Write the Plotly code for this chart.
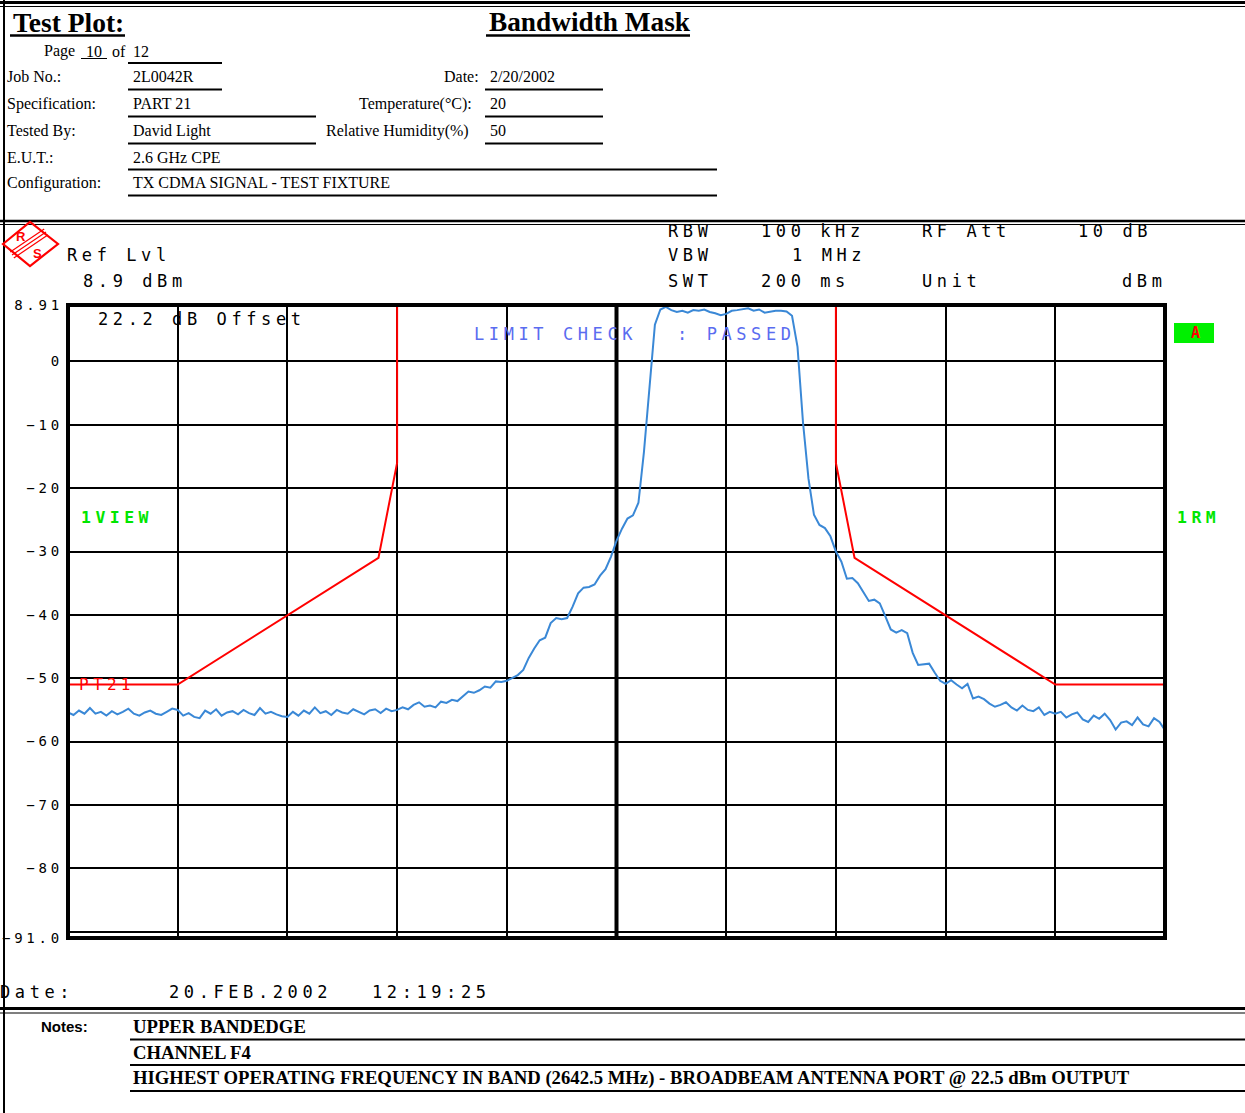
import numpy as np
import plotly.graph_objects as go

W, H = 1245, 1113

# ---------------- data ----------------
trace_db = [
    -55.4, -55.8, -55.1, -55.6, -54.7, -55.6, -55.3, -55.9, -55.2, -55.7,
    -55.3, -54.8, -55.6, -55.9, -55.4, -55.1, -55.6, -55.8, -55.3, -54.8,
    -55.0, -55.9, -55.5, -56.1, -56.3, -55.1, -55.6, -54.9, -55.9, -55.4,
    -55.2, -55.7, -55.0, -55.5, -55.8, -54.7, -55.6, -55.3, -55.7, -56.0,
    -56.1, -55.3, -55.9, -55.1, -55.6, -54.6, -55.5, -55.2, -55.8, -55.0,
    -55.4, -55.6, -54.9, -55.3, -55.7, -55.1, -54.9, -55.5, -54.8, -55.2,
    -55.0, -54.6, -54.9, -54.2, -53.8, -54.5, -54.3, -54.6, -53.7, -53.9,
    -53.4, -53.6, -52.8, -52.1, -52.3, -51.9, -51.3, -51.5, -50.5, -50.6,
    -50.4, -49.9, -49.5, -48.7, -46.8, -45.3, -44.0, -43.6, -41.3, -40.5,
    -40.7, -40.5, -38.7, -36.6, -35.7, -35.6, -35.2, -33.8, -32.8, -30.8,
    -28.3, -26.4, -24.8, -24.3, -22.3, -14.3, -3.9, 5.8, 8.2, 8.6,
    8.1, 7.8, 8.0, 7.7, 8.1, 8.0, 8.2, 7.8, 7.6, 7.3,
    7.5, 8.0, 8.1, 8.3, 8.4, 8.0, 8.2, 7.7, 7.9, 8.0,
    8.0, 7.9, 7.2, 2.3, -9.6, -18.5, -24.2, -25.8, -26.3, -27.6,
    -30.0, -31.6, -34.3, -34.2, -35.0, -36.3, -37.8, -37.6, -38.2, -40.2,
    -42.3, -42.8, -42.4, -42.9, -46.0, -47.9, -47.8, -47.7, -49.1, -50.4,
    -50.9, -50.3, -51.0, -51.6, -50.9, -53.2, -52.9, -53.3, -54.0, -54.5,
    -54.2, -53.8, -54.6, -55.1, -54.3, -55.0, -55.2, -54.6, -55.8, -55.3,
    -55.6, -55.3, -56.2, -55.7, -55.4, -56.5, -56.9, -55.9, -56.4, -55.6,
    -56.6, -58.1, -57.0, -56.8, -57.4, -56.2, -57.3, -57.6, -56.3, -56.9,
    -58.2,
]
sweep_div = np.linspace(0.0, 10.0, len(trace_db))

mask_left_x = [0.0, 1.0, 2.83, 3.0, 3.0]
mask_left_y = [-51.0, -51.0, -31.0, -16.0, 8.91]
mask_right_x = [7.0, 7.0, 7.17, 9.0, 10.0]
mask_right_y = [8.91, -16.0, -31.0, -51.0, -51.0]

y_tick_vals = [8.91, 0, -10, -20, -30, -40, -50, -60, -70, -80, -90, -91]
y_tick_text = ["8.91", "0", "−10", "−20", "−30", "−40", "−50", "−60", "−70", "−80", "", "−91.0"]
x_grid_vals = list(range(11))
y_range = [-91, 8.91]

# ---------------- helpers ----------------
def px(x):
    return x / W


def py(y):
    return 1 - y / H


MONO = "DejaVu Sans Mono"
SERIF = "Liberation Serif"
SANS = "Liberation Sans"

annotations = []


def ann(text, x, y, size, family=SERIF, color="black", anchor="left"):
    annotations.append(dict(
        text=text, x=px(x), y=py(y), xref="paper", yref="paper",
        xanchor=anchor, yanchor="middle", align=anchor,
        showarrow=False, font=dict(family=family, size=size, color=color),
        borderpad=0,
    ))


shapes = []


def hline(x0, x1, y, w=2, color="black"):
    shapes.append(dict(type="line", xref="paper", yref="paper",
                       x0=px(x0), x1=px(x1), y0=py(y), y1=py(y),
                       line=dict(color=color, width=w)))


def vline(x, y0, y1, w=2, color="black"):
    shapes.append(dict(type="line", xref="paper", yref="paper",
                       x0=px(x), x1=px(x), y0=py(y0), y1=py(y1),
                       line=dict(color=color, width=w)))


def path(points, color="red", w=2, closed=False):
    d = "M " + " L ".join(f"{px(a):.5f},{py(b):.5f}" for a, b in points)
    if closed:
        d += " Z"
    shapes.append(dict(type="path", xref="paper", yref="paper", path=d,
                       line=dict(color=color, width=w)))


# ---------------- figure ----------------
fig = go.Figure()
fig.add_trace(go.Scatter(x=mask_left_x, y=mask_left_y, mode="lines",
                         line=dict(color="#ff0000", width=2), hoverinfo="skip"))
fig.add_trace(go.Scatter(x=mask_right_x, y=mask_right_y, mode="lines",
                         line=dict(color="#ff0000", width=2), hoverinfo="skip"))
fig.add_trace(go.Scatter(x=sweep_div, y=trace_db, mode="lines",
                         line=dict(color="#3a88d6", width=2), hoverinfo="skip"))

# page frame lines
vline(4, 0, H, w=2)
hline(0, W, 2.5, w=3)
hline(0, W, 6.5, w=1.2)
hline(0, W, 221, w=2.5)
hline(0, W, 224.5, w=1.2)
hline(0, W, 1008.5, w=3)
hline(0, W, 1013, w=1.2)

# header
ann("<b>Test Plot:</b>", 12, 22, 27.5)
hline(10, 125, 35.5, w=2.5)
ann("<b>Bandwidth Mask</b>", 488, 22, 27.3)
hline(486, 690, 35.5, w=2.5)

HS = 16
ann("Page", 43, 51, HS)
ann("10", 85, 51, HS)
hline(81, 107, 58.5, w=1)
ann("of", 111, 51, HS)
ann("12", 132, 51, HS)
hline(128, 222, 63, w=2)

rows = [
    ("Job No.:", "2L0042R", 77, 222),
    ("Specification:", "PART 21", 104, 316),
    ("Tested By:", "David Light", 131, 316),
    ("E.U.T.:", "2.6 GHz CPE", 157, 717),
    ("Configuration:", "TX CDMA SIGNAL - TEST FIXTURE", 183, 717),
]
for lab, val, yy, xend in rows:
    ann(lab, 6, yy, HS)
    ann(val, 132, yy, HS)
    hline(128, xend, yy + 12.5, w=2)

right_rows = [
    ("Date:", "2/20/2002", 77, 480),
    ("Temperature(°C):", "20", 104, 473),
    ("Relative Humidity(%)", "50", 131, 470),
]
for lab, val, yy, xr in right_rows:
    ann(lab, xr, yy, HS, anchor="right")
    ann(val, 489, yy, HS)
    hline(485, 603, yy + 12.5, w=2)

# instrument header (mono)
MS = 17
ann("Ref Lvl", 66, 255, MS, MONO)
ann("8.9 dBm", 82, 281, MS, MONO)
ann("RBW", 667, 231, MS, MONO)
ann("100 kHz", 760, 231, MS, MONO)
ann("RF Att", 921, 231, MS, MONO)
ann("10 dB", 1077, 231, MS, MONO)
ann("VBW", 667, 255, MS, MONO)
ann("1 MHz", 791, 255, MS, MONO)
ann("SWT", 667, 281, MS, MONO)
ann("200 ms", 760, 281, MS, MONO)
ann("Unit", 921, 281, MS, MONO)
ann("dBm", 1121, 281, MS, MONO)

ann("22.2 dB Offset", 97, 319, MS, MONO)
ann("LIMIT CHECK", 473, 334, MS, MONO, color="#5a6cf0")
ann(": PASSED", 676, 334, MS, MONO, color="#5a6cf0")
ann("<b>1VIEW</b>", 80, 517, 16.5, MONO, color="#00e600")
ann("<b>1RM</b>", 1176, 517, 16.5, MONO, color="#00e600")
ann("PT21", 78, 684, 16, MONO, color="#ff0000")

# green "A" box
shapes.append(dict(type="rect", xref="paper", yref="paper",
                   x0=px(1174), x1=px(1214), y0=py(343), y1=py(323),
                   fillcolor="#00f000", line=dict(width=0)))
ann("<b>A</b>", 1197, 333, 15, MONO, color="#ff0000", anchor="center")

# date row
ann("Date:", -1, 992, MS, MONO)
ann("20.FEB.2002", 168, 992, MS, MONO)
ann("12:19:25", 371, 992, MS, MONO)

# R&S logo
path([(3, 244), (30, 222), (58, 244), (30, 266)], closed=True, w=2.2)
for off in (-3, 0, 3):
    path([(12 + off * 0.6, 255 + off), (46 + off * 0.6, 232 + off)], w=1.2)
ann("<b>R</b>", 21, 236, 13, SANS, color="#ff0000", anchor="center")
ann("<b>S</b>", 37, 254, 13, SANS, color="#ff0000", anchor="center")

# notes
ann("<b>Notes:</b>", 40, 1026, 15, SANS)
NS = 18.7
ann("<b>UPPER BANDEDGE</b>", 132, 1026, NS)
hline(130, W, 1039.5, w=2)
ann("<b>CHANNEL F4</b>", 132, 1052, NS)
hline(130, W, 1065, w=2)
ann("<b>HIGHEST OPERATING FREQUENCY IN BAND (2642.5 MHz) - BROADBEAM ANTENNA PORT @ 22.5 dBm OUTPUT</b>",
    132, 1078, NS)
hline(130, W, 1091, w=2)

# plot frame & centre line
shapes.append(dict(type="rect", xref="x domain", yref="y domain", x0=0, x1=1, y0=0, y1=1,
                   line=dict(color="black", width=4), layer="above"))
shapes.append(dict(type="line", xref="x", yref="y domain", x0=5, x1=5, y0=0, y1=1,
                   line=dict(color="black", width=4), layer="below"))

fig.update_layout(
    width=W, height=H, autosize=False,
    margin=dict(l=0, r=0, t=0, b=0, pad=0, autoexpand=False),
    paper_bgcolor="white", plot_bgcolor="white",
    showlegend=False,
    xaxis=dict(domain=[px(68), px(1165)], range=[0, 10], tickvals=x_grid_vals,
               showticklabels=False, ticks="", showgrid=True, gridcolor="black",
               gridwidth=2, zeroline=False, showline=False, fixedrange=True,
               automargin=False),
    yaxis=dict(domain=[py(938), py(305)], range=y_range, tickvals=y_tick_vals,
               ticktext=y_tick_text, ticks="", showgrid=True, gridcolor="black",
               gridwidth=2, zeroline=False, showline=False, fixedrange=True,
               automargin=False,
               tickfont=dict(family=MONO, size=14, color="black"), ticklabelstandoff=4),
    shapes=shapes,
    annotations=annotations,
)

post = """
function fixLS(){
  document.querySelectorAll('text').forEach(function(t){
    var ff = t.style.fontFamily || '';
    if (ff.indexOf('DejaVu Sans Mono') >= 0) {
      var fs = parseFloat(t.style.fontSize) || 14;
      t.style.letterSpacing = (fs*0.27).toFixed(2) + 'px';
    }
  });
}
fixLS(); setTimeout(fixLS, 30); setTimeout(fixLS, 300);
var gd = document.getElementById('{plot_id}');
if (gd && gd.on) { gd.on('plotly_afterplot', fixLS); }
"""

fig.write_html("out.html", post_script=post)
